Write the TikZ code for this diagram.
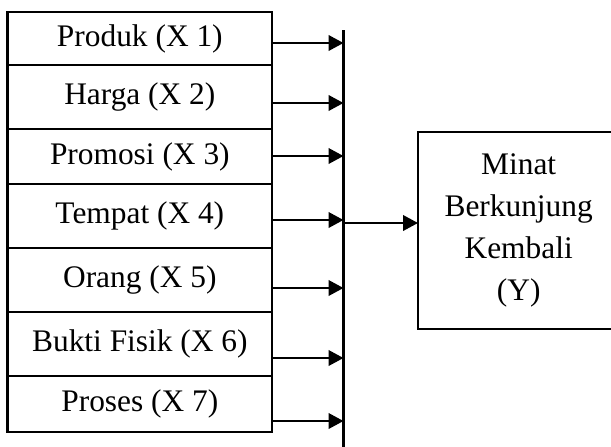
\documentclass[tikz,border=0pt]{standalone}
\usepackage{fontspec}
\setmainfont{Liberation Serif}
\usepackage{tikz}
\usetikzlibrary{positioning}
\usetikzlibrary{arrows.meta}

\begin{document}
\begin{tikzpicture}[
    varbox/.style={draw,line width=1pt,outer sep=0pt,inner sep=0pt,
      minimum width=3.97cm,font=\fontsize{13.4}{17.9}\selectfont},
    ybox/.style={draw,line width=0.5pt,outer sep=0pt,align=center,
      minimum width=3.02cm,minimum height=2.955cm,
      font=\fontsize{13.4}{17.9}\selectfont},
    arr/.style={line width=1pt,-{Triangle[length=6.4pt,width=6.6pt]}}
  ]
    \useasboundingbox (0,0) rectangle (9.165,6.69);
    \clip (0,0) rectangle (9.165,6.69);
    \node[varbox,minimum height=0.795cm,anchor=north west] (x1) at (0.1125,6.51) {Produk (X 1)};
    \node[varbox,minimum height=0.96cm,below=0pt of x1] (x2) {Harga (X 2)};
    \node[varbox,minimum height=0.825cm,below=0pt of x2] (x3) {Promosi (X 3)};
    \node[varbox,minimum height=0.96cm,below=0pt of x3] (x4) {Tempat (X 4)};
    \node[varbox,minimum height=0.96cm,below=0pt of x4] (x5) {Orang (X 5)};
    \node[varbox,minimum height=0.96cm,below=0pt of x5] (x6) {Bukti Fisik (X 6)};
    \node[varbox,minimum height=0.84cm,below=0pt of x6] (x7) {Proses (X 7)};
    \node[ybox] (y) at (7.78,3.2325) {Minat\\Berkunjung\\Kembali\\(Y)};
    \coordinate (bustop) at (5.1525,6.24);
    \coordinate (busbot) at (5.1525,-0.1);
    \draw[line width=1pt] (bustop) -- (busbot);
    \coordinate (b1) at (5.1525,6.045);
    \coordinate (b2) at (5.1525,5.145);
    \coordinate (b3) at (5.1525,4.35);
    \coordinate (b4) at (5.1525,3.39);
    \coordinate (b5) at (5.1525,2.37);
    \coordinate (b6) at (5.1525,1.32);
    \coordinate (b7) at (5.1525,0.375);
    \draw[arr] (b1 -| x1.east) -- (b1);
    \draw[arr] (b2 -| x2.east) -- (b2);
    \draw[arr] (b3 -| x3.east) -- (b3);
    \draw[arr] (b4 -| x4.east) -- (b4);
    \draw[arr] (b5 -| x5.east) -- (b5);
    \draw[arr] (b6 -| x6.east) -- (b6);
    \draw[arr] (b7 -| x7.east) -- (b7);
    \coordinate (out) at (5.1525,3.345);
    \draw[arr] (out) -- (out -| y.west);
  \end{tikzpicture}
\end{document}
